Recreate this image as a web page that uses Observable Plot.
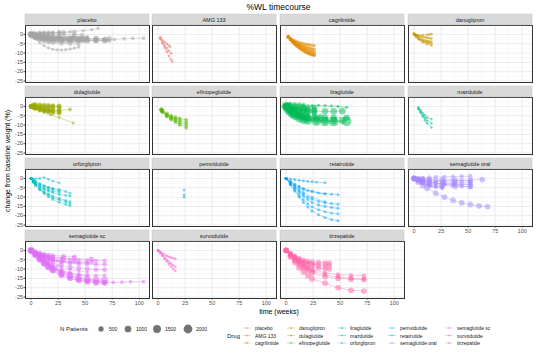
<!DOCTYPE html>
<html><head><meta charset="utf-8">
<script src="https://cdn.jsdelivr.net/npm/d3@7"></script>
<script src="https://cdn.jsdelivr.net/npm/@observablehq/plot@0.6"></script>
<style>
body{margin:0;background:#fff;font-family:"Liberation Sans",Arial,sans-serif;}
#chart{position:relative;width:536px;height:355px;overflow:hidden;background:#fff;}
.abs{position:absolute;}
</style></head><body><div id="chart"></div>
<script>
// ---------------- data ----------------
const drugs = ["placebo","AMG 133","cagrilintide","danuglipron","dulaglutide","efinopeglutide","liraglutide","mazdutide","orforglipron","pemvidutide","retatrutide","semaglutide oral","semaglutide sc","survodutide","tirzepatide"];
const drugColors = ["#a6a6a6","#F8766D","#E38900","#C49A00","#99A800","#53B400","#00BC56","#00C094","#00BFC4","#00B6EB","#06A4FF","#A58AFF","#DF70F8","#FB61D7","#FF66A8"];
const xTicks = [0,25,50,75,100];
const xMinor = [12.5,37.5,62.5,87.5];
const yTicks = [0,-5,-10,-15,-20,-25];
const yMinor = [2.5,-2.5,-7.5,-12.5,-17.5,-22.5];
const sizeBreaks = [500,1000,1500,2000];
const title = "%WL timecourse";
const xTitle = "time (weeks)";
const yTitle = "change from baseline weight (%)";

// each arm: [N patients, week, %change, week, %change, ...]
const placeboArms = [
 [655, 0,0, 4,-1.1, 8,-1.7, 12,-2.1, 16,-2.4, 20,-2.6, 28,-2.8, 36,-3, 44,-3.1, 52,-3.2, 60,-3.1, 68,-3.2],
 [152, 0,0, 4,-1, 8,-1.5, 12,-2, 20,-2.5, 28,-2.6, 36,-2.7, 44,-2.6, 52,-2.5, 60,-2.5, 68,-2.6, 77,-2.6, 86,-2.3, 94,-2.1, 104,-2],
 [1244, 0,0, 2,-0.6, 4,-1, 6,-1.4, 8,-1.8, 12,-2.2, 16,-2.5, 20,-2.7, 24,-2.8, 28,-2.9, 32,-2.9, 36,-2.8, 40,-2.7, 44,-2.6, 48,-2.6],
 [643, 0,0, 4,-0.9, 8,-1.3, 12,-1.6, 16,-1.9, 20,-2, 24,-2.1, 36,-2.3, 48,-2.4, 60,-2.3, 72,-2.4],
 [204, 0,0, 4,-2, 8,-3, 12,-3.8, 16,-4.3, 20,-4.6, 28,-5, 36,-5.1, 44,-5.2],
 [100, 0,0, 4,-2.5, 8,-4.5, 12,-6, 16,-7.2, 20,-8, 24,-8.3, 28,-8.4, 32,-8.2, 36,-7.8, 40,-7.3, 44,-6.8],
 [141, 0,0, 2,-0.3, 4,-0.6, 8,-0.9, 13,-1.2, 17,-1.3, 26,-1.5, 39,-1.4, 52,-1.3],
 [100, 0,0, 4,0.3, 8,0.5, 12,0.6, 16,0.8, 20,1, 26,1.2, 36,1.5, 48,2, 56,2.6, 62,3.3],
 [50, 0,0, 4,-0.8, 8,-1.2, 12,-1.6, 16,-1.8, 20,-2, 26,-2.1, 36,-2],
 [70, 0,0, 4,-0.5, 8,-0.9, 12,-1.2, 16,-1.4, 24,-1.6, 36,-2, 48,-2.1],
 [70, 0,0, 2,-0.2, 4,-0.5, 8,-0.8, 12,-1.1, 16,-1.2],
 [184, 0,0, 4,-0.6, 8,-0.9, 14,-1.2, 26,-1.4, 38,-1.5, 52,-1.7],
 [40, 0,0, 2,-0.5, 4,-0.8, 8,-1.2, 12,-1.6, 16,-1.7],
 [101, 0,0, 4,-0.8, 8,-1.2, 12,-1.6, 16,-1.9, 20,-2, 26,-2],
 [50, 0,0, 4,0.2, 8,0.4, 12,0.6, 16,0.5, 20,0.7, 26,0.8],
 [30, 0,0, 4,0.5, 8,0.9, 12,1.2],
 [212, 0,0, 4,-0.8, 8,-1.2, 12,-1.6, 16,-1.8, 20,-1.9, 24,-2, 32,-2.1, 40,-2.1, 44,-2.1],
 [120, 0,0, 4,-0.3, 8,-0.4, 12,-0.5, 16,-0.6, 20,-0.7, 26,-0.7, 40,-0.9],
 [333, 0,0, 4,-1, 8,-1.6, 12,-2, 20,-2.3, 28,-2.4, 36,-2.5, 44,-2.4, 52,-2.3, 60,-2.3, 68,-2.4],
 [403, 0,0, 4,-0.8, 8,-1.3, 12,-1.8, 20,-2.5, 28,-3, 36,-3.3, 44,-3.4, 52,-3.4, 60,-3.4, 68,-3.4],
 [315, 0,0, 4,-0.8, 8,-1.3, 12,-1.9, 16,-2.3, 20,-2.6, 24,-2.8, 36,-3.1, 48,-3.2, 60,-3.3, 72,-3.2],
 [360, 0,0, 2,0.4, 4,0.6, 8,0.8, 12,0.9, 16,1, 20,1, 26,1.1, 30,1.1, 40,1.2],
 [250, 0,0, 2,-0.3, 4,-0.5, 8,-0.4, 12,-0.3, 16,-0.2, 20,-0.1, 26,0, 30,0.1, 40,0, 47,-0.2]
];
const amg133Arms = [
 [40, 2,-1.5, 4,-3, 6,-4, 8,-5, 10,-6, 11,-6.7],
 [40, 2,-2, 4,-4, 6,-5.8, 8,-7.4, 10,-8.9, 12,-10.2],
 [40, 2,-2.5, 4,-4.8, 6,-7, 8,-9.3, 10,-11.6, 12,-13.5, 13,-14.6]
];
const cagrilintideArms = [
 [100, 2,-1, 4,-2, 6,-2.8, 8,-3.4, 10,-3.9, 12,-4.3, 14,-4.6, 16,-5, 18,-5.2, 20,-5.4, 22,-5.6, 24,-5.8, 26,-6],
 [100, 2,-1.2, 4,-2.3, 6,-3.2, 8,-4, 10,-4.7, 12,-5.2, 14,-5.7, 16,-6.2, 18,-6.6, 20,-7, 22,-7.3, 24,-7.6, 26,-7.9],
 [100, 2,-1.3, 4,-2.5, 6,-3.5, 8,-4.4, 10,-5.2, 12,-5.9, 14,-6.5, 16,-7.1, 18,-7.6, 20,-8.1, 22,-8.5, 24,-8.9, 26,-9.2],
 [100, 2,-1.4, 4,-2.7, 6,-3.8, 8,-4.8, 10,-5.7, 12,-6.5, 14,-7.2, 16,-7.9, 18,-8.5, 20,-9, 22,-9.5, 24,-9.9, 26,-10.3],
 [100, 2,-1.5, 4,-2.9, 6,-4.1, 8,-5.2, 10,-6.2, 12,-7.1, 14,-7.9, 16,-8.6, 18,-9.3, 20,-9.9, 22,-10.4, 24,-10.8, 26,-11],
 [100, 2,-1.6, 4,-3, 6,-4.3, 8,-5.4, 10,-6.4, 12,-7.3, 14,-8.1, 16,-8.9, 18,-9.6, 20,-10.2, 22,-10.7, 24,-11.1, 26,-11.3]
];
const danuglipronArms = [
 [40, 0,0.5, 1,-0.3, 2,-0.9, 4,-1.8, 6,-2.4, 8,-2.9, 10,-3.2, 12,-3.5, 14,-3.7, 16,-3.9],
 [40, 0,0.3, 1,-0.5, 2,-1.2, 4,-2.3, 6,-3, 8,-3.6, 10,-4, 12,-4.3, 14,-4.6, 16,-4.9],
 [40, 0,0, 2,-0.4, 4,-0.8, 6,-1.1, 8,-1.4, 10,-1.6, 12,-1.8, 14,-2, 16,-2.2],
 [40, 0,0.2, 2,-0.2, 4,-0.4, 8,-0.4, 12,-0.2, 14,0, 16,0.1],
 [40, 0,0, 2,-1.3, 4,-2.6, 8,-4.2, 12,-5.2, 16,-6]
];
const dulaglutideArms = [
 [300, 0,0, 2,-0.5, 4,-1, 8,-1.6, 12,-2, 16,-2.3, 20,-2.5, 26,-2.7],
 [300, 0,0, 2,-0.3, 4,-0.6, 8,-1, 12,-1.3, 16,-1.5, 20,-1.6, 26,-1.7],
 [280, 0,0, 2,0.2, 4,0, 8,-0.3, 12,-0.5, 16,-0.6, 20,-0.6, 26,-0.7],
 [270, 0,0, 2,-0.6, 4,-1.3, 8,-2.2, 12,-2.8, 16,-3.2, 20,-3.5, 26,-3.8],
 [270, 0,0, 2,0.5, 4,0.6, 8,0.4, 12,0.3, 16,0.2, 20,0.1, 26,0],
 [200, 0,0, 4,-0.8, 8,-1.3, 13,-1.8, 17,-2, 26,-2.2, 36,-1.6],
 [50, 0,0, 4,-1, 8,-2.2, 12,-3, 18,-4.5, 26,-6, 39,-8.9],
 [400, 0,0, 2,0.8, 4,1, 8,0.8, 12,0.6, 16,0.5, 20,0.4, 26,0.3],
 [250, 0,0, 2,-0.4, 4,-0.9, 8,-1.4, 12,-1.9, 16,-2.4, 20,-2.8, 26,-3.2]
];
const efinopeglutideArms = [
 [180, 3,-1.5, 4,-2.2, 8,-3.8, 12,-5, 16,-5.8, 20,-6.5, 26,-7.2],
 [180, 3,-1.7, 4,-2.5, 8,-4.4, 12,-5.7, 16,-6.7, 20,-7.6, 26,-8.6],
 [180, 3,-1.9, 4,-2.8, 8,-4.9, 12,-6.4, 16,-7.6, 20,-8.7, 26,-10],
 [180, 3,-2.1, 4,-3.1, 8,-5.4, 12,-7, 16,-8.4, 20,-9.8, 26,-11.4]
];
const liraglutideArms = [
 [2487, 0,0, 2,-1.5, 4,-2.8, 6,-3.8, 8,-4.7, 12,-6, 16,-6.8, 20,-7.3, 28,-7.9, 36,-8.1, 44,-8.1, 56,-8],
 [846, 0,0, 2,-1.2, 4,-2.2, 8,-3.6, 12,-4.6, 16,-5.2, 20,-5.6, 28,-5.9, 36,-6, 44,-6, 56,-6],
 [1000, 0,0, 4,-1, 8,-1.6, 12,-2, 16,-2.2, 20,-2.4, 26,-2.5, 36,-2.6, 44,-2.6, 52,-2.5],
 [700, 0,0, 2,-0.5, 4,-0.8, 8,-1.2, 12,-1.5, 16,-1.6, 20,-1.7, 26,-1.8],
 [600, 0,0, 2,0.3, 4,0.2, 8,0, 12,-0.2, 16,-0.3, 20,-0.4, 26,-0.5],
 [500, 0,0, 2,-0.8, 4,-1.5, 8,-2.3, 12,-2.8, 16,-3.1, 20,-3.3, 26,-3.5],
 [400, 0,0, 2,-1, 4,-1.8, 8,-3, 12,-3.9, 16,-4.5, 20,-4.9, 26,-5.2, 32,-5.3],
 [95, 0,0, 2,-1.5, 4,-2.6, 6,-3.5, 8,-4.2, 10,-4.8, 12,-5.3, 14,-5.8, 16,-6.2, 18,-6.6, 20,-7],
 [95, 0,0, 2,-1.2, 4,-2.1, 6,-2.9, 8,-3.5, 10,-4, 12,-4.4, 14,-4.8, 16,-5.1, 18,-5.4, 20,-5.7],
 [80, 0,0, 4,-0.2, 8,-0.3, 16,0.2, 24,0.4, 30,0.6, 36,0.4, 42,0.3, 48,0, 56,-0.5],
 [300, 0,0, 2,1, 4,1.3, 8,1.2, 12,1, 16,0.8],
 [1100, 0,0, 2,-1.3, 4,-2.5, 8,-4.3, 12,-5.6, 16,-6.4, 20,-6.9, 28,-7.4, 36,-7.6, 44,-7.7, 52,-7.7],
 [420, 0,0, 4,-2.4, 8,-4, 12,-5.1, 16,-5.7, 20,-6.2, 24,-6.6, 32,-6.9]
];
const mazdutideArms = [
 [30, 4,-0.5, 6,-2, 8,-3.5, 10,-4.8, 12,-6, 16,-6.8],
 [30, 4,-1, 6,-2.8, 8,-4.6, 10,-6.2, 12,-7.6, 16,-9],
 [30, 4,-1.5, 6,-3.5, 8,-5.5, 10,-7.4, 12,-9, 16,-11.3]
];
const orforglipronArms = [
 [50, 0,0, 2,-1.5, 4,-2.7, 8,-4.5, 12,-5.8, 16,-6.8, 20,-7.6, 26,-8.6, 32,-9.1, 36,-9.4],
 [50, 0,0, 2,-1.8, 4,-3.2, 8,-5.4, 12,-7, 16,-8.3, 20,-9.5, 26,-10.8, 32,-11.8, 36,-12.5],
 [50, 0,0, 2,-2, 4,-3.5, 8,-5.8, 12,-7.6, 16,-9, 20,-10.3, 26,-11.5, 32,-12.6, 36,-13.5],
 [50, 0,0, 2,-2.2, 4,-3.8, 8,-6.2, 12,-8.2, 16,-9.8, 20,-11.3, 26,-12.8, 32,-14, 36,-14.7],
 [50, 0,0, 2,-1, 4,-1.9, 8,-3.1, 12,-4, 16,-4.8, 20,-5.4, 26,-6, 32,-7, 36,-8],
 [50, 0,0, 2,-0.8, 4,-1.6, 8,-2.9, 12,-4, 16,-5, 20,-5.8, 26,-6.6],
 [30, 0,0, 4,-0.2, 8,0, 12,0.5, 16,-0.5, 20,-1.4, 26,-2.3],
 [50, 0,0, 2,-1.3, 4,-2.4, 8,-4, 12,-5.2, 16,-6.1, 20,-6.8, 26,-7.4]
];
const pemvidutideArms = [
 [40, 24,-6.3],
 [40, 24,-8.8],
 [40, 24,-10.1]
];
const retatrutideArms = [
 [50, 0,0, 4,-2, 8,-3.6, 12,-4.9, 16,-5.9, 20,-6.6, 24,-7.2, 30,-7.8, 36,-8.2, 42,-8.5, 48,-8.7],
 [65, 0,0, 4,-2.6, 8,-4.8, 12,-6.8, 16,-8.5, 20,-10, 24,-11.2, 30,-12.3, 36,-13, 42,-13.5, 48,-13.8],
 [65, 0,0, 4,-2.8, 8,-5.2, 12,-7.5, 16,-9.5, 20,-11.3, 24,-12.9, 30,-14.2, 36,-15, 42,-15.6, 48,-16],
 [70, 0,0, 4,-3.2, 8,-6.2, 12,-9, 16,-11.5, 20,-13.6, 24,-15.3, 30,-16.8, 36,-17.9, 42,-18.6, 48,-19],
 [60, 0,0, 4,-3.5, 8,-6.8, 12,-10, 16,-12.9, 20,-15.3, 24,-17.5, 30,-19.5, 36,-21, 42,-22.1, 48,-22.7],
 [45, 0,0, 4,-0.3, 8,-0.7, 12,-1, 16,-1.3, 20,-1.6, 24,-1.8, 28,-2, 36,-2.3],
 [45, 0,0, 4,-1.5, 8,-3, 12,-4.3, 16,-5.3, 24,-6.8, 36,-8.4],
 [45, 0,0, 4,-2, 8,-4, 12,-5.9, 16,-7.5, 24,-10.1, 36,-12.5]
];
const semaglutideOralArms = [
 [700, 0,0, 4,-1, 8,-1.8, 14,-2.8, 26,-3.8, 38,-4.2, 52,-4.3],
 [350, 0,0, 4,-0.8, 8,-1.5, 14,-2.2, 26,-3, 38,-3.2, 52,-3.2],
 [350, 0,0, 4,-0.5, 8,-0.9, 14,-1.4, 26,-1.8, 38,-2, 52,-2],
 [600, 0,0, 4,-0.3, 8,-0.4, 14,-0.6, 26,-0.8, 38,-0.9, 52,-1, 63,-0.6],
 [180, 0,0, 4,-1.2, 8,-2.2, 14,-3.2, 20,-3.8, 26,-4.4],
 [180, 0,0, 4,-1.5, 8,-2.6, 14,-3.8, 20,-4.5, 26,-5],
 [60, 0,0, 2,-0.8, 4,-1.5, 6,-2.1, 8,-2.7, 10,-3.2, 12,-3.6, 14,-4, 16,-4.3, 20,-4.8, 26,-5.3],
 [667, 0,0, 4,-2, 8,-3.8, 12,-5.3, 20,-7.9, 28,-10, 36,-11.8, 44,-13.1, 52,-14, 60,-14.7, 68,-15.1],
 [250, 0,0, 4,0.2, 8,0.3, 14,0.5, 20,0.7, 28,0.9, 36,1, 44,1.1, 52,1.2],
 [300, 0,0, 4,-0.5, 8,-1.1, 14,-1.9, 20,-2.4, 28,-3.1, 36,-3.7, 44,-4.2, 52,-4.6],
 [300, 0,0, 4,-0.4, 8,-0.7, 14,-1, 20,-1.1, 28,-1.2, 36,-1.1, 44,-1.2, 52,-1.3],
 [400, 0,0, 4,-0.7, 8,-1.3, 14,-2, 20,-2.4, 28,-2.7, 36,-2.8, 44,-3, 52,-3.1]
];
const semaglutideScArms = [
 [1306, 0,0, 4,-2.2, 8,-4.5, 12,-6.5, 16,-8.3, 20,-9.8, 28,-12, 36,-13.5, 44,-14.6, 52,-15.5, 60,-15.9, 68,-16],
 [152, 0,0, 4,-2, 8,-4, 12,-6, 16,-8, 20,-9.5, 28,-11.8, 36,-13.5, 44,-14.8, 52,-15.8, 60,-16.5, 68,-16.9, 76,-17.2, 84,-17, 92,-16.8, 104,-16.7],
 [407, 0,0, 4,-2.6, 8,-5.2, 12,-7.5, 16,-9.4, 20,-11, 28,-13.4, 36,-15, 44,-16, 52,-16.8, 60,-17.2, 68,-17.5],
 [404, 0,0, 4,-1.6, 8,-3.1, 12,-4.5, 16,-5.6, 20,-6.6, 28,-8, 36,-9, 44,-9.6, 52,-10, 60,-10.3, 68,-10.4],
 [403, 0,0, 4,-1.5, 8,-2.7, 12,-3.7, 16,-4.6, 20,-5.3, 28,-6.2, 36,-6.8, 44,-7.1, 52,-7.3, 60,-7.4, 68,-7.4],
 [199, 0,0, 4,-2, 8,-4, 12,-5.8, 16,-7.4, 20,-8.7, 28,-10.6, 36,-11.9, 44,-12.7, 52,-13.2, 60,-13.4, 68,-13.3],
 [200, 0,0, 4,-1, 8,-1.8, 12,-2.6, 16,-3.2, 20,-3.7, 28,-4.4, 36,-4.8, 44,-5.1, 52,-5.3, 60,-5.4, 68,-5.4],
 [400, 0,0, 4,-1.3, 8,-2.5, 12,-3.5, 16,-4.2, 20,-4.8, 30,-5.6, 40,-6, 56,-6.2],
 [400, 0,0, 4,-1, 8,-2, 12,-2.7, 16,-3.2, 20,-3.6, 30,-4.2, 40,-4.5, 56,-4.6],
 [360, 0,0, 4,-0.8, 8,-1.5, 12,-2, 16,-2.4, 20,-2.7, 30,-3.1, 40,-3.3],
 [100, 0,0, 2,-1, 4,-2, 6,-3, 8,-3.9, 10,-4.7, 12,-5.4, 16,-6.6, 20,-7.6, 24,-8.4, 28,-9.1, 36,-10.2, 44,-11, 52,-11.6],
 [100, 0,0, 2,-1.2, 4,-2.4, 6,-3.5, 8,-4.6, 10,-5.6, 12,-6.5, 16,-8, 20,-9.3, 24,-10.3, 28,-11.2, 36,-12.5, 44,-13.3, 52,-13.8],
 [100, 0,0, 2,-0.8, 4,-1.5, 6,-2.2, 8,-2.8, 10,-3.3, 12,-3.8, 16,-4.6, 20,-5.2, 24,-5.6, 28,-6, 36,-6.4, 44,-6.6, 52,-6.6],
 [803, 0,0, 4,-2.3, 8,-4.5, 12,-6.6, 16,-8.6, 20,-10.6, 28,-13, 36,-14.8, 44,-16, 52,-16.8, 60,-17.3, 68,-17.4]
];
const survodutideArms = [
 [30, 0,0, 2,-0.8, 4,-1.6, 6,-2.3, 8,-2.9, 10,-3.4, 12,-3.8, 14,-4.2, 16,-4.5],
 [30, 0,0, 2,-1.2, 4,-2.5, 6,-3.8, 8,-5, 10,-6.1, 12,-7.1, 14,-8, 16,-8.8],
 [30, 0,0, 2,-1.4, 4,-3, 6,-4.5, 8,-6, 10,-7.4, 12,-8.7, 14,-9.9, 16,-11]
];
const tirzepatideArms = [
 [630, 0,0, 4,-3.5, 8,-6.5, 12,-9.3, 16,-11.6, 20,-13.6, 24,-15.3, 36,-17.6, 48,-20, 60,-21.4, 72,-21.8],
 [630, 0,0, 4,-3, 8,-5.5, 12,-7.7, 16,-9.5, 20,-11, 24,-12.2, 36,-14, 48,-15, 60,-15.5, 72,-15.6],
 [310, 0,0, 4,-2.5, 8,-4.6, 12,-6.4, 16,-8, 20,-9.2, 24,-10.2, 36,-12, 48,-12.9, 60,-13.3, 72,-13.5],
 [310, 0,0, 4,-2.7, 8,-5, 12,-7, 16,-8.7, 20,-10, 24,-11, 36,-13, 48,-14.2, 60,-14.9, 72,-15.2],
 [470, 0,0, 4,-1.5, 8,-3, 12,-4.2, 16,-5.1, 20,-5.7, 24,-6.1, 30,-6.4, 36,-6.6, 40,-6.7],
 [470, 0,0, 4,-1.8, 8,-3.5, 12,-5, 16,-6.2, 20,-7, 24,-7.5, 30,-7.9, 36,-8.1, 40,-8.2],
 [470, 0,0, 4,-2, 8,-4, 12,-5.7, 16,-7.1, 20,-8.1, 24,-8.8, 30,-9.4, 36,-9.8, 40,-10],
 [120, 0,0, 4,-1.8, 8,-3.4, 12,-4.8, 16,-5.8, 20,-6.6, 26,-7.3],
 [50, 0,0, 4,-2, 8,-4.2, 12,-6, 16,-7.8, 20,-9.5, 26,-11.3]
];
const armsByDrug = [placeboArms, amg133Arms, cagrilintideArms, danuglipronArms, dulaglutideArms, efinopeglutideArms, liraglutideArms, mazdutideArms, orforglipronArms, pemvidutideArms, retatrutideArms, semaglutideOralArms, semaglutideScArms, survodutideArms, tirzepatideArms];

// ---------------- layout ----------------
const COLX = [25, 152, 280, 408];
const ROWY = [25, 97, 169, 241];
const PW = 124, PH = 57, STRIP = 11;
const X_DOMAIN = [-5.2, 109.5];
const Y_DOMAIN = [-25.8, 4.8];
const FONT = "'Liberation Sans', Arial, sans-serif";

const rOpts = {type: "sqrt", domain: [0, 2000], range: [0.9, 4.4]};
const colorOpts = {domain: drugs, range: drugColors};

function toRows(arms, drug) {
  const out = [];
  arms.forEach((a, i) => {
    for (let k = 1; k < a.length; k += 2) out.push({drug, arm: i, n: a[0], week: a[k], value: a[k + 1]});
  });
  return out;
}

const root = d3.select("#chart");
const fmt = d => String(d);

drugs.forEach((drug, i) => {
  const col = i % 4, row = Math.floor(i / 4);
  const hasY = col === 0;
  const hasX = row === 3 || i === 11;
  const ml = hasY ? 26 : 0, mb = hasX ? 10 : 0;
  const data = toRows(armsByDrug[i], drug);
  const chart = Plot.plot({
    width: PW + ml, height: PH + mb,
    marginLeft: ml, marginRight: 0, marginTop: 0, marginBottom: mb,
    style: {fontFamily: FONT, fontSize: "5.5px", color: "#4d4d4d", background: "transparent", overflow: "visible"},
    x: {domain: X_DOMAIN, axis: hasX ? "bottom" : null, ticks: xTicks, tickSize: 1.5, tickPadding: 1, tickFormat: fmt, label: null},
    y: {domain: Y_DOMAIN, axis: hasY ? "left" : null, ticks: yTicks, tickSize: 1.5, tickPadding: 1, tickFormat: fmt, label: null},
    r: rOpts,
    color: colorOpts,
    marks: [
      Plot.frame({fill: "white"}),
      Plot.gridX(xMinor, {stroke: "#f2f2f2", strokeOpacity: 1, strokeWidth: 0.5}),
      Plot.gridY(yMinor, {stroke: "#f2f2f2", strokeOpacity: 1, strokeWidth: 0.5}),
      Plot.gridX(xTicks, {stroke: "#e6e6e6", strokeOpacity: 1, strokeWidth: 0.8}),
      Plot.gridY(yTicks, {stroke: "#e6e6e6", strokeOpacity: 1, strokeWidth: 0.8}),
      Plot.line(data, {x: "week", y: "value", z: "arm", stroke: "drug", strokeWidth: 0.6, strokeOpacity: 0.6}),
      Plot.dot(data, {x: "week", y: "value", r: "n", fill: "drug", fillOpacity: 0.5, stroke: null}),
      Plot.frame({stroke: "#333333", strokeWidth: 1})
    ]
  });
  root.append("div").attr("class", "abs")
    .style("left", (COLX[col] - ml) + "px").style("top", ROWY[row] + "px")
    .node().appendChild(chart);
});

// ---------------- overlay: titles, strips, legends ----------------
const svg = root.append("svg").attr("class", "abs")
  .attr("width", 536).attr("height", 355)
  .style("left", "0px").style("top", "0px").style("pointer-events", "none")
  .style("font-family", FONT);

svg.append("text").attr("x", 278.5).attr("y", 7).attr("text-anchor", "middle")
  .attr("dominant-baseline", "central").attr("font-size", 8.5).attr("fill", "#000").text(title);
svg.append("text").attr("transform", "translate(7.5,161) rotate(-90)").attr("text-anchor", "middle")
  .attr("dominant-baseline", "central").attr("font-size", 7).attr("fill", "#000").text(yTitle);
svg.append("text").attr("x", 279).attr("y", 311.5).attr("text-anchor", "middle")
  .attr("dominant-baseline", "central").attr("font-size", 7).attr("fill", "#000").text(xTitle);

drugs.forEach((drug, i) => {
  const col = i % 4, row = Math.floor(i / 4);
  svg.append("rect").attr("x", COLX[col]).attr("y", ROWY[row] - STRIP).attr("width", PW).attr("height", STRIP)
    .attr("fill", "#d9d9d9").attr("stroke", "#bdbdbd").attr("stroke-width", 0.4);
  svg.append("text").attr("x", COLX[col] + PW / 2).attr("y", ROWY[row] - STRIP / 2)
    .attr("text-anchor", "middle").attr("dominant-baseline", "central")
    .attr("font-size", 5.5).attr("fill", "#1a1a1a").text(drug);
});

// size legend
const rScale = Plot.scale({r: rOpts});
const colorScale = Plot.scale({color: colorOpts});
svg.append("text").attr("x", 60).attr("y", 329).attr("dominant-baseline", "central")
  .attr("font-size", 6).attr("fill", "#1a1a1a").text("N Patients");
const sizeKeyX = [101, 128, 157, 188];
sizeBreaks.forEach((v, k) => {
  svg.append("circle").attr("cx", sizeKeyX[k]).attr("cy", 329).attr("r", rScale.apply(v))
    .attr("fill", "#000").attr("fill-opacity", 0.55);
  svg.append("text").attr("x", sizeKeyX[k] + 8).attr("y", 329).attr("dominant-baseline", "central")
    .attr("font-size", 5).attr("fill", "#1a1a1a").text(String(v));
});

// drug legend
svg.append("text").attr("x", 227).attr("y", 335.5).attr("dominant-baseline", "central")
  .attr("font-size", 6).attr("fill", "#1a1a1a").text("Drug");
const keyX = [247, 291, 342, 392, 449];
const keyY = [328, 335.5, 343];
drugs.forEach((drug, i) => {
  const c = Math.floor(i / 3), k = i % 3;
  const cx = keyX[c], cy = keyY[k];
  const col = colorScale.apply(drug);
  svg.append("line").attr("x1", cx - 4).attr("x2", cx + 4).attr("y1", cy).attr("y2", cy)
    .attr("stroke", col).attr("stroke-opacity", 0.6).attr("stroke-width", 0.6);
  svg.append("circle").attr("cx", cx).attr("cy", cy).attr("r", 1.1).attr("fill", col).attr("fill-opacity", 0.5);
  svg.append("text").attr("x", cx + 8).attr("y", cy).attr("dominant-baseline", "central")
    .attr("font-size", 5).attr("fill", "#1a1a1a").text(drug);
});
</script></body></html>
